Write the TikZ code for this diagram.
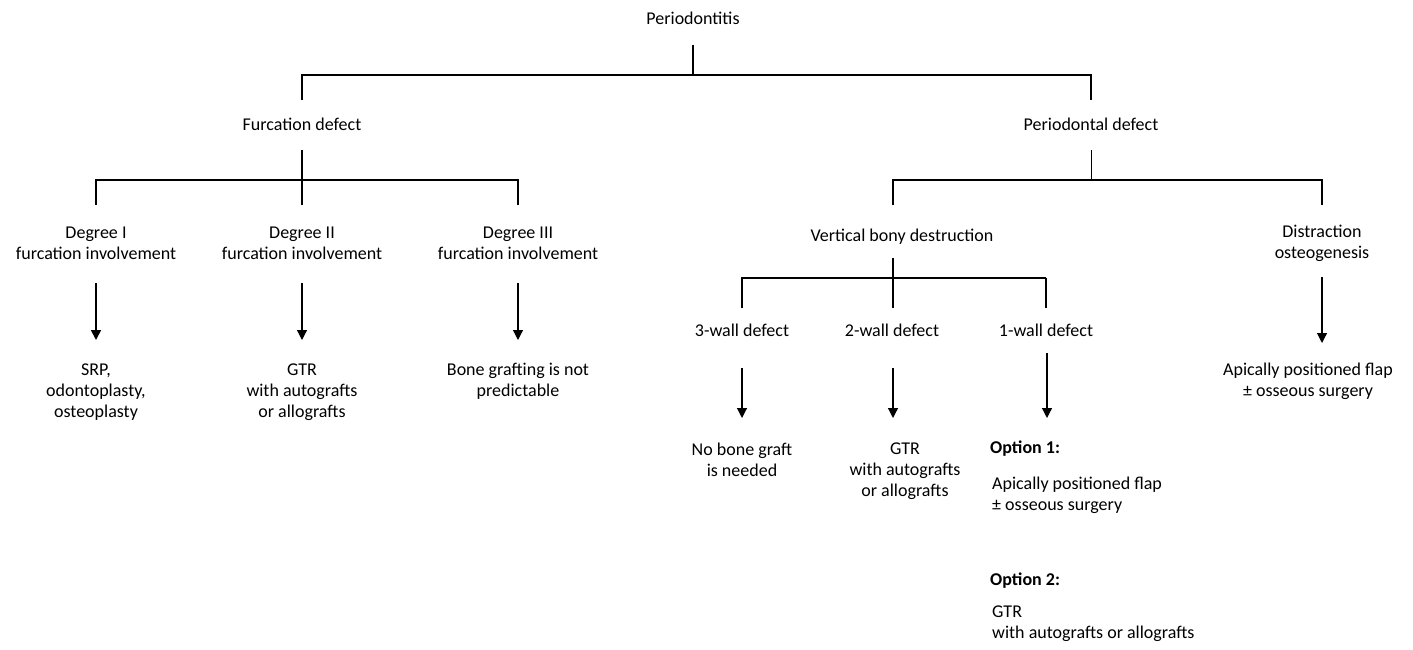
\documentclass[tikz,border=0pt]{standalone}
\usepackage{fontspec}
\setmainfont{Carlito}
\usetikzlibrary{arrows.meta,calc}
\begin{document}
\begin{tikzpicture}[x=1pt,y=-1pt,
  lbl/.style={inner sep=0pt,align=center,font=\fontsize{18}{21}\selectfont},
  lbll/.style={inner sep=0pt,align=left,anchor=west,font=\fontsize{18}{21}\selectfont},
  ln/.style={line width=1.3pt},
  arr/.style={line width=1.2pt,-{Triangle[width=10pt,length=10pt]}}]
\useasboundingbox[fill=white] (0,0) rectangle (1413,650);
% nodes
\node[lbl] (root) at (693,18) {Periodontitis};
\node[lbl] (furc) at (302,124) {Furcation defect};
\node[lbl] (per) at (1091,124) {Periodontal defect};
\node[lbl] (deg1) at (96,243) {Degree I\\furcation involvement};
\node[lbl] (deg2) at (302,243) {Degree II\\furcation involvement};
\node[lbl] (deg3) at (518,243) {Degree III\\furcation involvement};
\node[lbl] (srp) at (96,392) {SRP,\\odontoplasty,\\osteoplasty};
\node[lbl] (gtra) at (302,392) {GTR\\with autografts\\or allografts};
\node[lbl] (bone) at (518,381) {Bone grafting is not\\predictable};
\node[lbl] (vbd) at (902,237) {Vertical bony destruction};
\node[lbl] (dist) at (1322,243) {Distraction\\osteogenesis};
\node[lbl] (wthree) at (742,330) {3-wall defect};
\node[lbl] (wtwo) at (892,330) {2-wall defect};
\node[lbl] (wone) at (1046,330) {1-wall defect};
\node[lbl] (apfr) at (1308,381) {Apically positioned flap\\± osseous surgery};
\node[lbl] (nbg) at (742,460) {No bone graft\\is needed};
\node[lbl] (gtrb) at (905,471) {GTR\\with autografts\\or allografts};
\node[lbll,font=\fontsize{18}{21}\selectfont\bfseries] (opta) at (990,449) {Option 1:};
\node[lbll] (apfa) at (992,495) {Apically positioned flap\\± osseous surgery};
\node[lbll,font=\fontsize{18}{21}\selectfont\bfseries] (optb) at (990,581) {Option 2:};
\node[lbll] (gtrc) at (992,624) {GTR\\with autografts or allografts};
% junctions
\coordinate (j0) at (693,75);
\coordinate (j0l) at (302,75);
\coordinate (j0r) at (1091,75);
\coordinate (j1) at (302,180);
\coordinate (j1l) at (96,180);
\coordinate (j1r) at (518,180);
\coordinate (j2) at (1091,180);
\coordinate (j2l) at (893,180);
\coordinate (j2r) at (1322,180);
\coordinate (j3) at (893,278);
\coordinate (j3l) at (742,278);
\coordinate (j3r) at (1046,278);
% top level
\draw[ln] ($(root)+(0,27)$) -- (j0);
\draw[ln] ($(furc)+(0,-24)$) |- (j0r) -- ($(per)+(0,-24)$);
% furcation branch
\draw[ln] ($(furc)+(0,26)$) -- ($(deg2)+(0,-38)$);
\draw[ln] ($(deg1)+(0,-38)$) |- (j1r) -- ($(deg3)+(0,-38)$);
\draw[arr,line width=1.7pt] ($(deg1)+(0,40)$) -- ($(srp)+(0,-52)$);
\draw[arr] ($(deg2)+(0,40)$) -- ($(gtra)+(0,-52)$);
\draw[arr] ($(deg3)+(0,40)$) -- ($(bone)+(0,-41)$);
% periodontal branch
\draw[line width=1pt] ($(per)+(0,26)$) -- (j2);
\draw[ln,line width=1.6pt] ($(vbd)+(-9,-32)$) |- (j2r) -- ($(dist)+(0,-38)$);
\draw[ln] ($(vbd)+(-9,21)$) -- ($(wtwo)+(1,-22)$);
\draw[ln,line width=1.8pt] ($(wthree)+(0,-22)$) |- (j3r);
\draw[ln] (j3r) -- ($(wone)+(0,-22)$);
\draw[arr] ($(wthree)+(0,38)$) -- ($(nbg)+(0,-42)$);
\draw[arr] ($(wtwo)+(1,38)$) -- ($(gtrb)+(-12,-53)$);
\draw[arr] ($(wone)+(1,23)$) -- ($(opta.west)+(57,-31)$);
\draw[arr] ($(dist)+(0,34)$) -- ($(apfr)+(14,-38)$);
\end{tikzpicture}
\end{document}
